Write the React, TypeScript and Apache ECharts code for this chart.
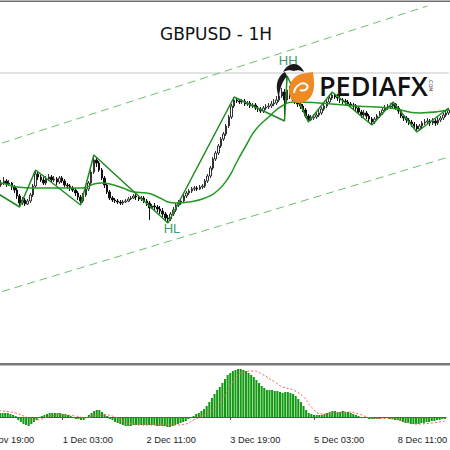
import React, { useEffect, useRef } from "react";
import * as echarts from "echarts";

// ---------- data ----------
const tickLabels = ["27 Nov 19:00", "1 Dec 03:00", "2 Dec 11:00", "3 Dec 19:00", "5 Dec 03:00", "8 Dec 11:00"];
const tickStep = 32; // bars between time labels

// [open, close, low, high]
const candles: number[][] = [
  [1.5720,1.5719,1.5716,1.5723],[1.5719,1.5721,1.5717,1.5724],[1.5721,1.5718,1.5716,1.5723],[1.5718,1.5720,1.5715,1.5722],
  [1.5720,1.5717,1.5714,1.5722],[1.5717,1.5719,1.5715,1.5721],[1.5719,1.5716,1.5714,1.5720],[1.5716,1.5718,1.5714,1.5721],
  [1.5718,1.5715,1.5712,1.5719],[1.5715,1.5717,1.5713,1.5720],[1.5717,1.5719,1.5715,1.5723],[1.5719,1.5716,1.5713,1.5721],
  [1.5716,1.5717,1.5714,1.5720],[1.5717,1.5713,1.5710,1.5718],[1.5713,1.5710,1.5707,1.5715],[1.5710,1.5704,1.5701,1.5712],
  [1.5704,1.5697,1.5693,1.5706],[1.5697,1.5700,1.5695,1.5703],[1.5700,1.5696,1.5694,1.5702],[1.5696,1.5699,1.5695,1.5701],
  [1.5699,1.5705,1.5697,1.5707],[1.5705,1.5714,1.5703,1.5716],[1.5714,1.5726,1.5712,1.5730],[1.5726,1.5723,1.5720,1.5728],
  [1.5723,1.5720,1.5718,1.5725],[1.5720,1.5717,1.5715,1.5723],[1.5717,1.5721,1.5715,1.5724],[1.5721,1.5723,1.5719,1.5726],
  [1.5723,1.5720,1.5717,1.5725],[1.5720,1.5721,1.5718,1.5724],[1.5721,1.5718,1.5715,1.5723],[1.5718,1.5722,1.5716,1.5724],
  [1.5722,1.5719,1.5717,1.5724],[1.5719,1.5715,1.5713,1.5721],[1.5715,1.5714,1.5711,1.5717],[1.5714,1.5712,1.5709,1.5716],
  [1.5712,1.5710,1.5708,1.5714],[1.5710,1.5707,1.5704,1.5712],[1.5707,1.5703,1.5700,1.5709],[1.5703,1.5699,1.5695,1.5705],
  [1.5699,1.5705,1.5697,1.5707],[1.5705,1.5711,1.5703,1.5713],[1.5711,1.5717,1.5709,1.5719],[1.5717,1.5728,1.5715,1.5730],
  [1.5728,1.5740,1.5726,1.5745],[1.5740,1.5737,1.5733,1.5742],[1.5737,1.5730,1.5728,1.5739],[1.5730,1.5722,1.5720,1.5732],
  [1.5722,1.5715,1.5712,1.5724],[1.5715,1.5708,1.5706,1.5717],[1.5708,1.5702,1.5700,1.5710],[1.5702,1.5700,1.5698,1.5704],
  [1.5700,1.5699,1.5697,1.5702],[1.5699,1.5698,1.5696,1.5701],[1.5698,1.5697,1.5695,1.5700],[1.5697,1.5698,1.5695,1.5700],
  [1.5698,1.5699,1.5697,1.5701],[1.5699,1.5701,1.5698,1.5703],[1.5701,1.5702,1.5700,1.5704],[1.5702,1.5704,1.5701,1.5706],
  [1.5704,1.5703,1.5700,1.5706],[1.5703,1.5701,1.5699,1.5705],[1.5701,1.5702,1.5699,1.5704],[1.5702,1.5699,1.5697,1.5704],
  [1.5699,1.5697,1.5694,1.5701],[1.5697,1.5692,1.5680,1.5699],[1.5692,1.5694,1.5691,1.5696],[1.5694,1.5693,1.5690,1.5697],
  [1.5693,1.5691,1.5688,1.5695],[1.5691,1.5689,1.5686,1.5694],[1.5689,1.5686,1.5683,1.5692],[1.5686,1.5682,1.5679,1.5688],
  [1.5682,1.5681,1.5677,1.5685],[1.5681,1.5686,1.5679,1.5688],[1.5686,1.5690,1.5684,1.5693],[1.5690,1.5695,1.5688,1.5697],
  [1.5695,1.5697,1.5693,1.5700],[1.5697,1.5699,1.5695,1.5702],[1.5699,1.5704,1.5697,1.5706],[1.5704,1.5707,1.5702,1.5709],
  [1.5707,1.5709,1.5705,1.5711],[1.5709,1.5711,1.5707,1.5713],[1.5711,1.5712,1.5709,1.5714],[1.5712,1.5711,1.5709,1.5714],
  [1.5711,1.5713,1.5710,1.5715],[1.5713,1.5714,1.5711,1.5716],[1.5714,1.5719,1.5712,1.5721],[1.5719,1.5724,1.5717,1.5726],
  [1.5724,1.5732,1.5722,1.5734],[1.5732,1.5741,1.5730,1.5743],[1.5741,1.5747,1.5739,1.5749],[1.5747,1.5754,1.5745,1.5756],
  [1.5754,1.5761,1.5752,1.5763],[1.5761,1.5766,1.5759,1.5768],[1.5766,1.5774,1.5764,1.5776],[1.5774,1.5783,1.5772,1.5785],
  [1.5783,1.5794,1.5781,1.5796],[1.5794,1.5800,1.5792,1.5803],[1.5800,1.5799,1.5797,1.5802],[1.5799,1.5798,1.5796,1.5801],
  [1.5798,1.5799,1.5796,1.5801],[1.5799,1.5796,1.5794,1.5801],[1.5796,1.5797,1.5794,1.5799],[1.5797,1.5794,1.5792,1.5799],
  [1.5794,1.5795,1.5792,1.5797],[1.5795,1.5792,1.5790,1.5797],[1.5792,1.5791,1.5788,1.5794],[1.5791,1.5789,1.5787,1.5793],
  [1.5789,1.5792,1.5787,1.5794],[1.5792,1.5793,1.5790,1.5796],[1.5793,1.5794,1.5791,1.5797],[1.5794,1.5796,1.5792,1.5799],
  [1.5796,1.5797,1.5794,1.5801],[1.5797,1.5800,1.5795,1.5804],[1.5800,1.5804,1.5798,1.5808],[1.5804,1.5808,1.5802,1.5812],
  [1.5808,1.5800,1.5779,1.5811],[1.5800,1.5810,1.5796,1.5824],[1.5810,1.5804,1.5801,1.5814],[1.5804,1.5801,1.5799,1.5807],
  [1.5801,1.5798,1.5796,1.5803],[1.5798,1.5796,1.5793,1.5800],[1.5796,1.5794,1.5791,1.5798],[1.5794,1.5790,1.5788,1.5796],
  [1.5790,1.5784,1.5782,1.5792],[1.5784,1.5780,1.5778,1.5786],[1.5780,1.5782,1.5779,1.5785],[1.5782,1.5783,1.5780,1.5786],
  [1.5783,1.5785,1.5781,1.5788],[1.5785,1.5787,1.5783,1.5790],[1.5787,1.5791,1.5785,1.5793],[1.5791,1.5794,1.5789,1.5796],
  [1.5794,1.5798,1.5792,1.5800],[1.5798,1.5802,1.5796,1.5804],[1.5802,1.5805,1.5800,1.5808],[1.5805,1.5803,1.5801,1.5807],
  [1.5803,1.5802,1.5799,1.5806],[1.5802,1.5800,1.5797,1.5804],[1.5800,1.5799,1.5796,1.5802],[1.5799,1.5798,1.5795,1.5801],
  [1.5798,1.5796,1.5794,1.5800],[1.5796,1.5795,1.5792,1.5798],[1.5795,1.5794,1.5791,1.5797],[1.5794,1.5792,1.5789,1.5796],
  [1.5792,1.5788,1.5786,1.5794],[1.5788,1.5785,1.5782,1.5790],[1.5785,1.5787,1.5783,1.5790],[1.5787,1.5784,1.5781,1.5789],
  [1.5784,1.5781,1.5778,1.5786],[1.5781,1.5778,1.5775,1.5783],[1.5778,1.5781,1.5776,1.5783],[1.5781,1.5784,1.5779,1.5786],
  [1.5784,1.5787,1.5782,1.5789],[1.5787,1.5790,1.5785,1.5792],[1.5790,1.5792,1.5788,1.5795],[1.5792,1.5793,1.5790,1.5796],
  [1.5793,1.5794,1.5791,1.5797],[1.5794,1.5796,1.5792,1.5798],[1.5796,1.5792,1.5790,1.5797],[1.5792,1.5789,1.5786,1.5794],
  [1.5789,1.5784,1.5782,1.5791],[1.5784,1.5782,1.5779,1.5786],[1.5782,1.5780,1.5777,1.5784],[1.5780,1.5778,1.5775,1.5782],
  [1.5778,1.5776,1.5773,1.5780],[1.5776,1.5774,1.5771,1.5778],[1.5774,1.5771,1.5768,1.5776],[1.5771,1.5774,1.5769,1.5776],
  [1.5774,1.5777,1.5772,1.5779],[1.5777,1.5778,1.5775,1.5781],[1.5778,1.5779,1.5776,1.5782],[1.5779,1.5777,1.5774,1.5781],
  [1.5777,1.5779,1.5775,1.5782],[1.5779,1.5777,1.5774,1.5781],[1.5777,1.5780,1.5775,1.5783],[1.5780,1.5782,1.5778,1.5784],
  [1.5782,1.5785,1.5780,1.5787],[1.5785,1.5787,1.5783,1.5790],[1.5787,1.5790,1.5785,1.5792],
];

// moving average, read at selected bars: [bar, price]
const maLine: number[][] = [
  [0,1.5719],[9,1.5717],[15,1.5713],[21,1.5712],[27,1.5712],[34,1.5712],[40,1.5712],[44,1.5716],[47,1.5717],
  [50,1.5716],[55,1.5712],[59,1.5708],[64,1.5707],[69,1.5702],[72,1.5698],[75,1.5697],[80,1.5698],[86,1.5702],
  [91,1.5710],[95,1.5723],[98,1.5738],[102,1.5757],[105,1.5770],[110,1.5783],[115,1.5794],[120,1.5798],
  [129,1.5797],[143,1.5794],[156,1.5792],[167,1.5787],[178,1.5790],
];

// zigzag swing points: [bar, price]
const zigzag: number[][] = [
  [0,1.5719],[16,1.5693],[22,1.5730],[39,1.5695],[44,1.5745],[72,1.5677],[97,1.5803],[116,1.5779],
  [117,1.5824],[125,1.5778],[134,1.5808],[149,1.5775],[157,1.5798],[166,1.5768],[178,1.5792],
];

const upperChannel: number[][] = [[0, 1.5749], [170, 1.5894]];
const lowerChannel: number[][] = [[0, 1.5601], [178, 1.5743]];
const levelLine: number[][] = [[0, 1.5827], [178, 1.5827]];
const hhPoint = [117, 1.5824];
const hlPoint = [72, 1.5677];

// MACD histogram per bar
const macdHist: number[] = [
  0.0005,0.0005,0.0005,0.0005,0.0005,0.0005,0.0004,0.0004,0.0004,0.0004,
  0.0004,0.0004,0.0003,0.0002,0.0001,-0.0003,-0.0005,-0.0007,-0.0008,-0.0009,
  -0.0007,-0.0005,-0.0003,-0.0001,0.0001,0.0002,0.0003,0.0004,0.0004,0.0004,
  0.0004,0.0004,0.0003,0.0003,0.0002,0.0001,-0.0001,-0.0002,-0.0002,-0.0003,
  -0.0003,-0.0001,0.0002,0.0004,0.0006,0.0007,0.0007,0.0005,0.0003,0.0001,
  -0.0002,-0.0003,-0.0005,-0.0006,-0.0007,-0.0008,-0.0009,-0.0009,-0.0009,-0.0008,
  -0.0008,-0.0008,-0.0008,-0.0008,-0.0008,-0.0008,-0.0008,-0.0008,-0.0009,-0.0009,
  -0.0009,-0.0009,-0.001,-0.001,-0.0009,-0.0008,-0.0007,-0.0006,-0.0005,-0.0004,
  -0.0002,-0.0001,0.0001,0.0003,0.0004,0.0006,0.0008,0.0011,0.0015,0.0019,
  0.0023,0.0027,0.003,0.0034,0.0038,0.0042,0.0044,0.0046,0.0047,0.0048,
  0.0048,0.0047,0.0046,0.0044,0.0042,0.004,0.0037,0.0034,0.0031,0.0029,
  0.0027,0.0027,0.0027,0.0026,0.0026,0.0025,0.0024,0.0025,0.0025,0.0024,
  0.0023,0.0021,0.0018,0.0015,0.0011,0.0007,0.0004,0.0003,0.0002,0.0002,
  0.0002,0.0002,0.0003,0.0004,0.0005,0.0006,0.0006,0.0005,0.0005,0.0006,
  0.0005,0.0005,0.0004,0.0003,0.0002,0.0001,-0.0001,-0.0001,-0.0001,-0.0002,
  -0.0002,-0.0002,-0.0002,-0.0002,-0.0001,-0.0001,-0.0001,-0.0002,-0.0002,-0.0003,
  -0.0003,-0.0004,-0.0005,-0.0006,-0.0006,-0.0007,-0.0007,-0.0007,-0.0007,-0.0006,
  -0.0006,-0.0005,-0.0005,-0.0004,-0.0004,-0.0003,-0.0003,-0.0002,-0.0002,
];

// MACD signal, read at selected bars: [bar, value]
const macdSignal: number[][] = [
  [0,0.0008],[9,0.0006],[14,0.0004],[18,0],[21,-0.0003],[24,-0.0002],[27,0.0001],[32,0.0002],[37,0.0001],
  [41,-0.0001],[45,0.0002],[48,0.0002],[52,0],[56,-0.0005],[62,-0.0008],[69,-0.0008],[75,-0.0008],[79,-0.0007],
  [82,-0.0003],[86,0.0002],[90,0.0009],[94,0.0022],[97,0.0035],[101,0.0045],[105,0.0046],[108,0.0043],
  [113,0.0035],[116,0.003],[120,0.0027],[124,0.002],[127,0.001],[131,0.0003],[135,0.0004],[141,0.0005],
  [145,0.0003],[150,-0.0001],[158,-0.0002],[163,-0.0005],[167,-0.0007],[173,-0.0006],[178,-0.0004],
];

// ---------- logo shapes ----------
echarts.graphic.registerShape(
  "logoOrange",
  echarts.graphic.extendPath("M12 2 L24 0 C25 8 26 14 24 20 C22 27 16 31 10 31 C4 31 0 26 0 19 C0 10 5 4 12 2 Z", {})
);
echarts.graphic.registerShape(
  "logoSwirl",
  echarts.graphic.extendPath("M5 21 C6 13 14 9 18 13 C20 16 16 20 11 18", {})
);
echarts.graphic.registerShape(
  "logoHat",
  echarts.graphic.extendPath("M0 8 C3 2 8 0 11 0 C15 0 19 3 21 8 C17 6 14 6 11 7 C8 6 4 6 0 8 Z", {})
);
echarts.graphic.registerShape(
  "logoSwoosh",
  echarts.graphic.extendPath("M9 0 C3 3 0 10 1 18 L3 28 C3 20 5 11 11 4 Z", {})
);

// the chart canvas starts this many px left of the window, so the first time label is cut off
const OFF = 24;

export default function App() {
  const ref = useRef<HTMLDivElement>(null);

  useEffect(() => {
    const el = ref.current;
    if (!el) return;
    const chart = echarts.init(el, null, { renderer: "svg" });
    const cats = candles.map((_, i) => String(i));
    const labelInterval = (index: number) => index % tickStep === 0;

    chart.setOption({
      animation: false,
      backgroundColor: "#ffffff",
      grid: [
        { left: 0, right: 0, top: 3, height: 360 },
        { left: 0, right: 0, top: 366, height: 66 },
      ],
      xAxis: [
        { type: "category", data: cats, gridIndex: 0, show: false, boundaryGap: true },
        {
          type: "category",
          data: cats,
          gridIndex: 1,
          boundaryGap: true,
          axisLine: { show: true, lineStyle: { color: "#555555", width: 1 } },
          axisTick: { show: true, alignWithLabel: true, interval: labelInterval, length: 3, lineStyle: { color: "#555555" } },
          axisLabel: {
            interval: labelInterval,
            formatter: (_v: string, index: number) => tickLabels[Math.round(index / tickStep)] || "",
            align: "left",
            margin: 3,
            color: "#222222",
            fontSize: 9.3,
            fontFamily: "Liberation Sans",
          },
          splitLine: { show: false },
        },
      ],
      yAxis: [
        { type: "value", gridIndex: 0, min: 1.5537, max: 1.5897, show: false, splitLine: { show: false } },
        { type: "value", gridIndex: 1, min: -0.0015, max: 0.0051, show: false, splitLine: { show: false } },
      ],
      series: [
        {
          type: "line",
          xAxisIndex: 0,
          yAxisIndex: 0,
          data: levelLine,
          symbol: "none",
          silent: true,
          lineStyle: { color: "#c4c4c4", width: 1 },
        },
        {
          type: "line",
          xAxisIndex: 0,
          yAxisIndex: 0,
          data: upperChannel,
          symbol: "none",
          silent: true,
          lineStyle: { color: "#6cbf6c", width: 1, type: [8, 5] },
        },
        {
          type: "line",
          xAxisIndex: 0,
          yAxisIndex: 0,
          data: lowerChannel,
          symbol: "none",
          silent: true,
          lineStyle: { color: "#6cbf6c", width: 1, type: [8, 5] },
        },
        {
          type: "candlestick",
          xAxisIndex: 0,
          yAxisIndex: 0,
          data: candles,
          barWidth: "75%",
          itemStyle: {
            color: "#ffffff",
            color0: "#111111",
            borderColor: "#333333",
            borderColor0: "#111111",
            borderWidth: 1,
          },
        },
        {
          type: "line",
          xAxisIndex: 0,
          yAxisIndex: 0,
          data: maLine,
          smooth: true,
          symbol: "none",
          lineStyle: { color: "#229922", width: 1.5 },
        },
        {
          type: "line",
          xAxisIndex: 0,
          yAxisIndex: 0,
          data: zigzag,
          symbol: "none",
          lineStyle: { color: "#1f8a1f", width: 1.5 },
          markPoint: {
            symbol: "circle",
            symbolSize: 1,
            itemStyle: { color: "rgba(0,0,0,0)" },
            label: { show: true, color: "#3a9d70", fontSize: 13, fontFamily: "Liberation Sans" },
            data: [
              { coord: hhPoint, value: "HH", label: { formatter: "HH", offset: [1, -16] } },
              { coord: hlPoint, value: "HL", label: { formatter: "HL", offset: [4, 5] } },
            ],
          },
        },
        {
          type: "bar",
          xAxisIndex: 1,
          yAxisIndex: 1,
          data: macdHist,
          barWidth: "78%",
          itemStyle: { color: "#119a11" },
        },
        {
          type: "line",
          xAxisIndex: 1,
          yAxisIndex: 1,
          data: macdSignal,
          smooth: true,
          symbol: "none",
          lineStyle: { color: "#ff5a5a", width: 1, type: [2, 2] },
        },
      ],
      graphic: [
        { type: "rect", shape: { x: 0, y: 0.5, width: 450 + OFF, height: 1.5 }, style: { fill: "#6f6f6f" }, z: 50 },
        { type: "rect", shape: { x: 0, y: 363, width: 450 + OFF, height: 2.5 }, style: { fill: "#7a7a7a" }, z: 50 },
        {
          type: "text",
          x: 216 + OFF,
          y: 34,
          style: {
            text: "GBPUSD - 1H",
            align: "center",
            verticalAlign: "middle",
            fontSize: 17,
            fontFamily: "DejaVu Sans",
            fill: "#111111",
          },
          z: 50,
        },
        { type: "logoHat", x: 283 + OFF, y: 64, style: { fill: "#1a1a1a" }, z: 60 },
        { type: "logoSwoosh", x: 276 + OFF, y: 72, style: { fill: "#1a1a1a" }, z: 60 },
        { type: "logoOrange", x: 289 + OFF, y: 72, style: { fill: "#f08a24" }, z: 61 },
        { type: "logoSwirl", x: 289 + OFF, y: 72, style: { fill: "none", stroke: "#ffffff", lineWidth: 2 }, z: 62 },
        {
          type: "text",
          x: 319 + OFF,
          y: 85,
          style: {
            text: "PEDIAFX",
            align: "left",
            verticalAlign: "middle",
            fontSize: 27,
            fontWeight: 600,
            fontFamily: "Open Sans",
            fill: "#111111",
          },
          z: 60,
        },
        {
          type: "text",
          x: 431 + OFF,
          y: 85,
          rotation: -Math.PI / 2,
          style: {
            text: ".COM",
            align: "center",
            verticalAlign: "middle",
            fontSize: 5,
            fontFamily: "DejaVu Sans",
            fill: "#444444",
          },
          z: 60,
        },
      ],
    });

    return () => chart.dispose();
  }, []);

  return (
    <div
      ref={ref}
      style={{ position: "fixed", left: -OFF, top: 0, width: 450 + OFF, height: 450, background: "#ffffff" }}
    />
  );
}
